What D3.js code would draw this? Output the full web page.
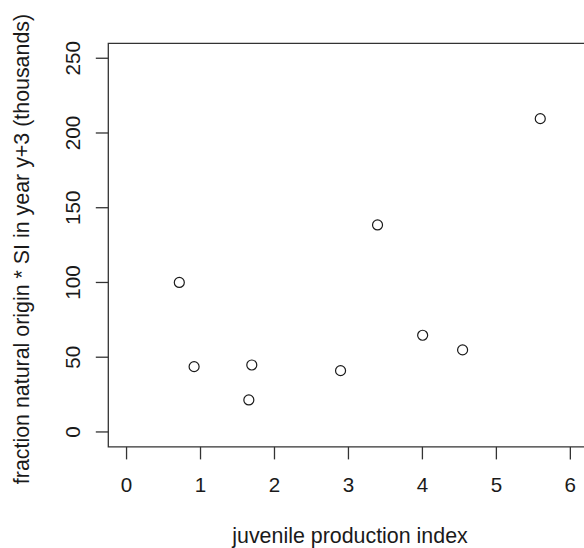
<!DOCTYPE html>
<html>
<head>
<meta charset="utf-8">
<script src="https://cdn.jsdelivr.net/npm/d3@7"></script>
<style>
  body { margin: 0; background: #fff; overflow: hidden; }
  svg { display: block; }
  svg text { font-family: "Liberation Sans", Arial, sans-serif; fill: #1a1a1a; }
</style>
</head>
<body>
<div class="container"></div>
<script>
// juvenile production index vs fraction natural origin * SI (thousands)
const juvIndex = [0.72, 0.92, 1.70, 1.66, 2.90, 4.01, 4.55, 3.40, 5.60];
const recruits = [100, 43.7, 44.8, 21.4, 41, 64.7, 54.9, 138.5, 209.6];
const xTicks = [0, 1, 2, 3, 4, 5, 6];
const yTicks = [0, 50, 100, 150, 200, 250];
const xTitle = "juvenile production index";
const yTitle = "fraction natural origin * SI in year y+3 (thousands)";

const width = 584, height = 548;
const box = { left: 108.3, top: 43.3, right: 587.6, bottom: 446.9 };

const svg = d3.select('.container').append('svg').attr('width', width).attr('height', height);

const x = d3.scaleLinear().domain([-0.24, 6.24]).range([box.left, box.right]);
const y = d3.scaleLinear().domain([-10, 260]).range([box.bottom, box.top]);

// plot box (right side falls outside the page)
svg.append('path')
    .attr('d', `M${box.right},${box.top}H${box.left}V${box.bottom}H${box.right}`)
    .attr('fill', 'none').attr('stroke', '#333').attr('stroke-width', 1.3);

// x axis
const xAxis = svg.append('g').attr('transform', `translate(0,${box.bottom})`)
    .call(d3.axisBottom(x).tickValues(xTicks).tickSize(12.5).tickPadding(18).tickFormat(d3.format('d')));
xAxis.select('.domain').remove();
xAxis.selectAll('line').attr('stroke', '#333').attr('stroke-width', 1.3);
xAxis.selectAll('text').attr('font-size', 20.6).attr('fill', '#1a1a1a');

// y axis
const yAxis = svg.append('g').attr('transform', `translate(${box.left},0)`)
    .call(d3.axisLeft(y).tickValues(yTicks).tickSize(12.5).tickFormat(d3.format('d')));
yAxis.select('.domain').remove();
yAxis.selectAll('line').attr('stroke', '#333').attr('stroke-width', 1.3);
yAxis.selectAll('text')
    .attr('font-size', 20.6).attr('fill', '#1a1a1a')
    .attr('x', null).attr('dy', null)
    .attr('text-anchor', 'middle')
    .attr('transform', d => `translate(${80 - box.left},${y(d)}) rotate(-90)`)
    .attr('y', 0);
yAxis.selectAll('.tick').attr('transform', 'translate(0,0)');
yAxis.selectAll('.tick line').attr('y1', d => y(d)).attr('y2', d => y(d));

// points
svg.append('g').selectAll('circle')
    .data(juvIndex.map((v, i) => [v, recruits[i]]))
    .enter().append('circle')
    .attr('cx', d => x(d[0])).attr('cy', d => y(d[1]))
    .attr('r', 5).attr('fill', 'none').attr('stroke', '#1a1a1a').attr('stroke-width', 1.2);

// titles
svg.append('text').attr('x', 350).attr('y', 543)
    .attr('text-anchor', 'middle').attr('font-size', 21.4).text(xTitle);
svg.append('text')
    .attr('transform', `translate(29,249) rotate(-90)`)
    .attr('text-anchor', 'middle').attr('font-size', 21.4).text(yTitle);
</script>
</body>
</html>
